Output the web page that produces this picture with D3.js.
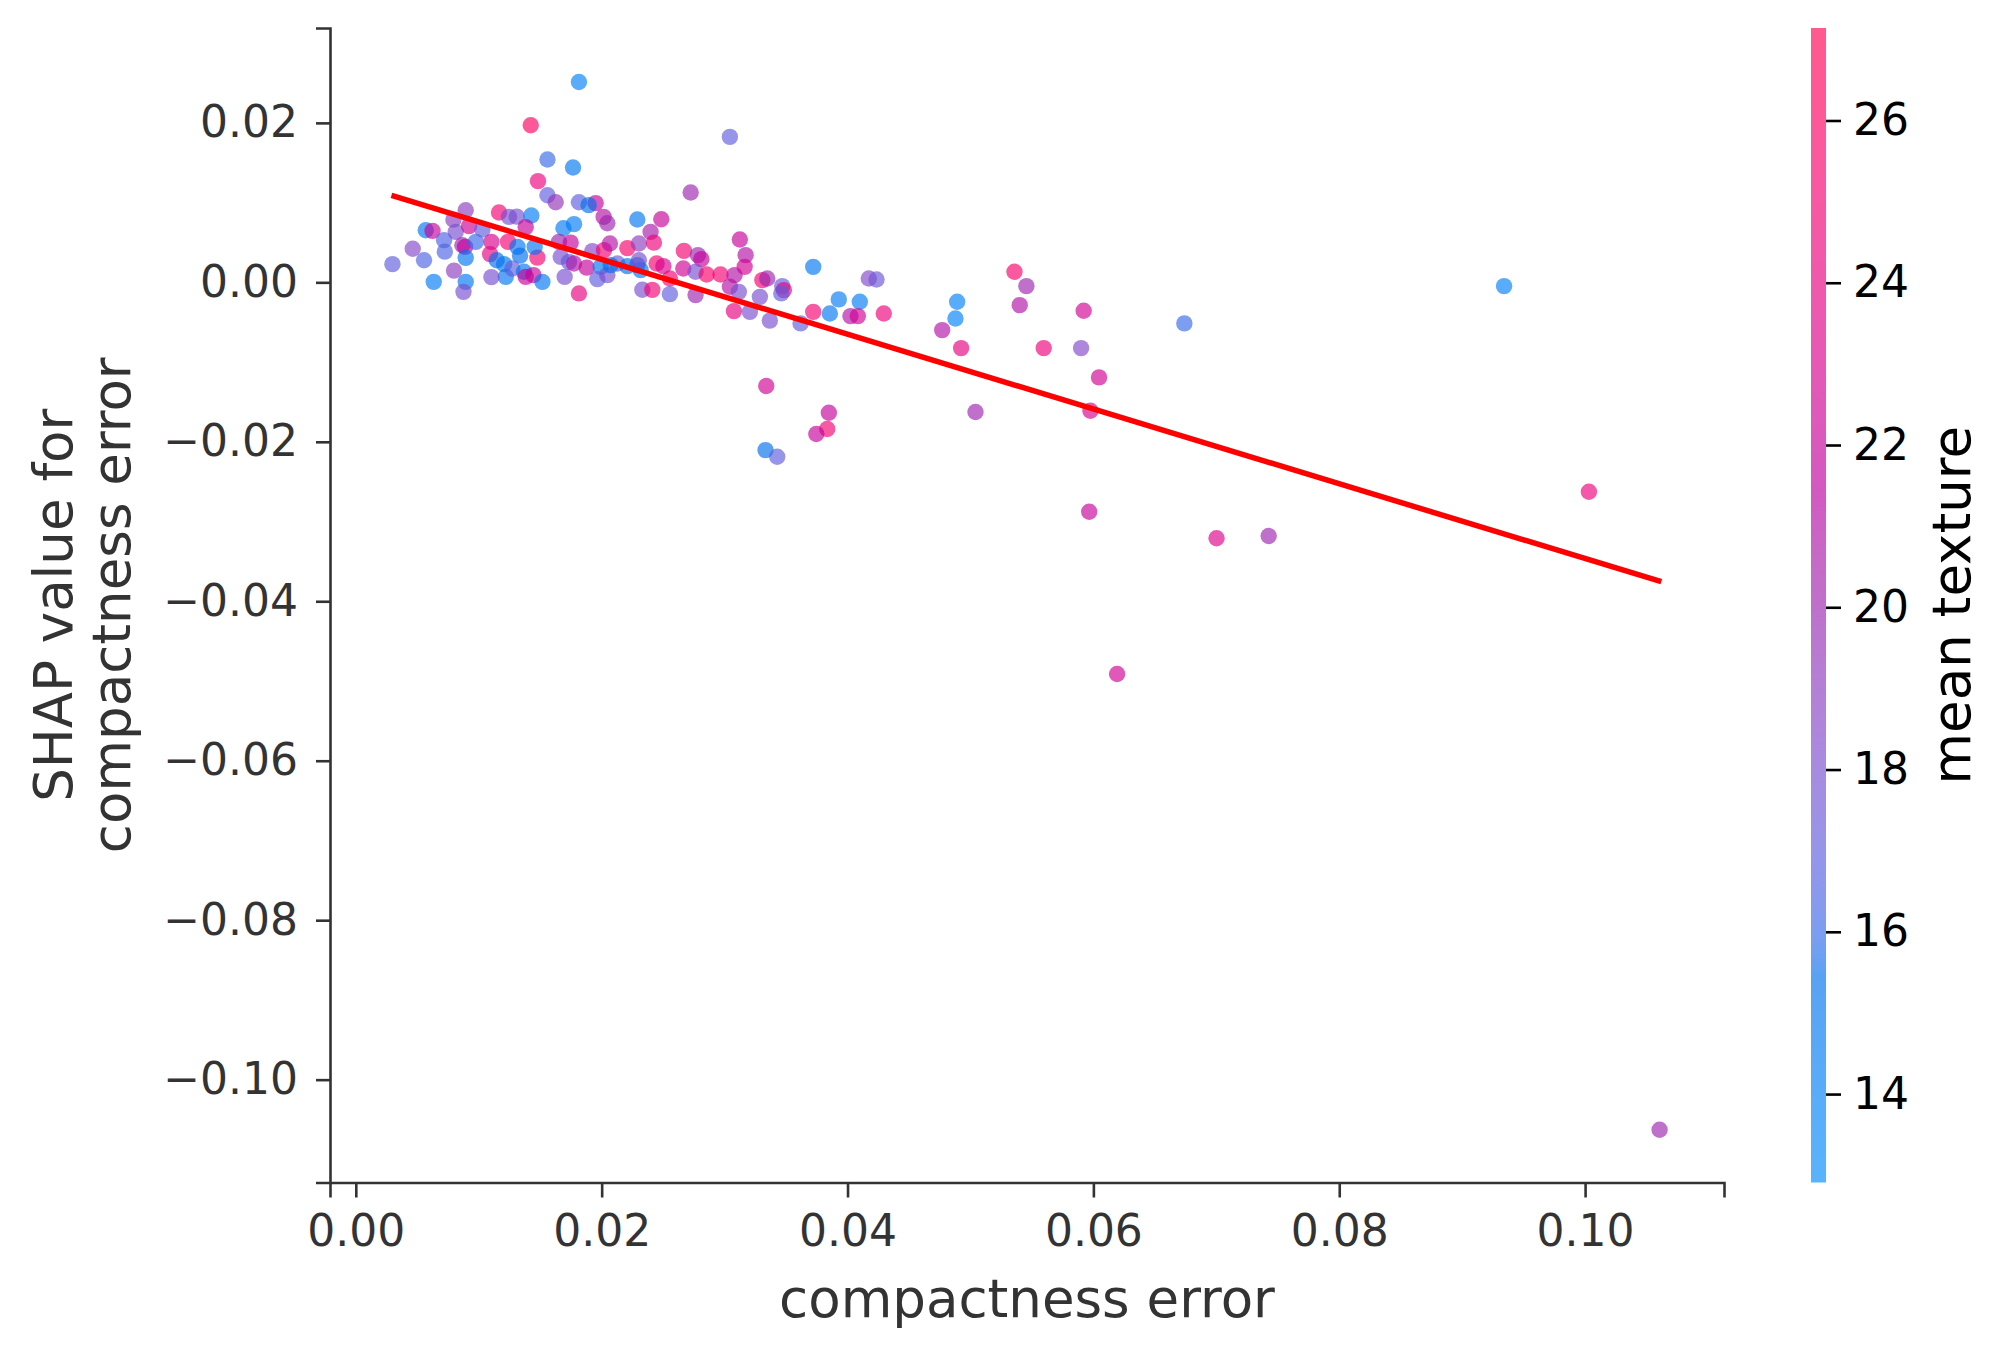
<!DOCTYPE html>
<html>
<head>
<meta charset="utf-8">
<script src="https://cdn.jsdelivr.net/npm/d3@7"></script>
<style>
  body { margin: 0; background: #ffffff; }
  svg { display: block; font-family: "DejaVu Sans", sans-serif; }
</style>
</head>
<body>
<svg id="chart" width="2011" height="1357"></svg>
<script>
/** compactness error of each sample (x) */
var compactness = [
  0.01815,0.01423,0.03043,0.01559,0.01767,0.01482,0.02724,0.01559,0.01626,0.01815,
  0.01951,0.01894,0.02016,0.02046,0.00298,0.00463,0.00555,0.00569,0.00624,0.00634,
  0.00718,0.00724,0.00799,0.00794,0.00894,0.00813,0.00921,0.00867,0.00889,0.00894,
  0.00894,0.00876,0.00976,0.01030,0.01103,0.01165,0.01246,0.01309,0.01428,0.01382,
  0.01092,0.01146,0.01206,0.01220,0.01103,0.01238,0.01315,0.01336,0.01274,0.01368,
  0.01382,0.01445,0.01477,0.01455,0.01518,0.01689,0.01775,0.01653,0.01748,0.01667,
  0.01734,0.01775,0.01699,0.01815,0.01924,0.01878,0.02019,0.01992,0.01965,0.02046,
  0.02067,0.02209,0.02290,0.02303,0.02290,0.02331,0.02128,0.02209,0.02073,0.02317,
  0.02303,0.02485,0.02398,0.02425,0.02412,0.02447,0.02502,0.02555,0.02555,0.02669,
  0.02783,0.02811,0.02664,0.02764,0.02854,0.02764,0.02967,0.03081,0.03043,0.03116,
  0.03124,0.03171,0.03163,0.03076,0.03206,0.03287,0.03368,0.03307,0.03347,0.03469,
  0.03482,0.03461,0.03618,0.03721,0.03721,0.03856,0.03929,0.04100,0.04024,0.04084,
  0.04173,0.04236,0.04295,0.03339,0.03333,0.03428,0.03848,0.03835,0.03746,0.04770,
  0.04892,0.04878,0.04924,0.05358,0.05455,0.05401,0.05596,0.05921,0.05900,0.06046,
  0.05976,0.05041,0.06740,0.05966,0.07002,0.07426,0.06193,0.09341,0.10031,0.10606
];

/** SHAP value for compactness error (y) */
var shapValues = [
  0.02513,0.01971,0.01824,0.01541,0.01440,0.01269,0.01127,0.01093,0.01005,0.01005,
  0.00993,0.00968,0.00821,0.00742,0.00228,0.00422,0.00278,0.00654,0.00646,0.00006,
  0.00529,0.00385,0.00147,0.00786,0.00905,0.00633,0.00705,0.00466,0.00445,0.00307,
  0.00006,-0.00119,0.00508,0.00663,0.00508,0.00876,0.00821,0.00824,0.00839,0.00692,
  0.00354,0.00278,0.00228,0.00069,0.00065,0.00508,0.00445,0.00335,0.00174,0.00132,
  0.00069,0.00090,0.00310,0.00445,0.00006,0.00679,0.00730,0.00508,0.00498,0.00320,
  0.00257,0.00237,0.00069,-0.00139,0.00391,0.00184,0.00404,0.00194,0.00040,0.00090,
  0.00488,0.00429,0.00789,0.00488,0.00216,-0.00092,0.00237,0.00203,0.00216,0.00153,
  0.00278,0.00792,0.00633,0.00498,-0.00094,0.00237,0.00203,0.00049,-0.00148,0.00395,
  0.00341,0.00291,0.00174,0.00132,0.00099,-0.00160,0.00099,0.00090,-0.00056,-0.00119,
  0.00538,0.00341,0.00194,-0.00361,-0.00370,-0.00182,-0.00480,0.00028,0.00049,-0.00048,
  -0.00098,-0.00139,-0.00515,0.00194,-0.00370,-0.00390,-0.00214,-0.00244,-0.00424,-0.00424,
  0.00049,0.00036,-0.00390,-0.01301,-0.02104,-0.02188,-0.01636,-0.01840,-0.01903,-0.00599,
  -0.00244,-0.00453,-0.00825,0.00132,-0.00048,-0.00286,-0.00825,-0.00357,-0.00825,-0.01192,
  -0.01611,-0.01627,-0.00515,-0.02877,-0.03210,-0.03182,-0.04912,-0.00048,-0.02626,-0.10628
];

/** mean texture of each sample (colour) */
var meanTexture = [
  14,26,17,16,15,24.5,20,17,19.5,17,
  22,15.5,21,20,17,18.5,16.5,15,22,14.5,
  16.5,16.5,19,19,19,18,22.5,20,22,15,
  15,18,16,17,23,25,18,18,14.5,22,
  24,15.5,15,15,18,25,15,15.5,17,15,
  22,22,25,15,15,14.5,14.5,20,22,18,
  17,21,18,24,18.5,22,25,15,17,18,
  21,25.5,15,19,15.5,18,17,15.5,15.5,15,
  18,22,20.5,24.5,25,25,23,25,17,25,
  20,22,22.5,18,25.5,20,25,21,21,18,
  22,21,22.5,24,18,18,18,25,20,17,
  24,17,17,15,25,15,14.5,14.5,21,22.5,
  18.5,17.5,24.5,22.5,15.5,17,22,25,22,21,
  14,14,24,25.5,20,21,24.5,22.5,18.5,22.5,
  23,20,16,22,23.5,20,22.5,14,24.5,20
];

/** trend line end points */
var lineX = [0.0029, 0.1062],
    lineY = [0.0109, -0.03755];

/** axis limits and ticks */
var xDomain = [-0.0021, 0.1113],
    yDomain = [-0.1129, 0.0319],
    colorDomain = [12.91, 27.14];
var xTicks = [0.00, 0.02, 0.04, 0.06, 0.08, 0.10],
    yTicks = [-0.10, -0.08, -0.06, -0.04, -0.02, 0.00, 0.02],
    colorTicks = [14, 16, 18, 20, 22, 24, 26];

var xLabel = 'compactness error',
    yLabel = ['SHAP value for', 'compactness error'],
    colorLabel = 'mean texture';

/** layout */
var plot = {left: 330, right: 1724, top: 28, bottom: 1182.5},
    bar = {x: 1811, width: 15},
    axisColor = '#333333',
    pointAlpha = 0.65;

var svg = d3.select('#chart');
svg.append('rect').attr('width', 2011).attr('height', 1357).attr('fill', '#ffffff');

var x = d3.scaleLinear().domain(xDomain).range([plot.left, plot.right]);
var y = d3.scaleLinear().domain(yDomain).range([plot.bottom, plot.top]);
var cScale = d3.scaleLinear().domain(colorDomain).range([plot.bottom, plot.top]);

/**
 * shap red_blue colormap: L goes 54 -> 40 -> 54, C 70 -> 90, hue linear (radians),
 * converted Lab(D65) -> sRGB and clipped, like skimage does.
 */
function lchToRgb(l, c, h) {
    var a = c * Math.cos(h), b = c * Math.sin(h);
    var fy = (l + 16) / 116, fx = a / 500 + fy, fz = fy - b / 200;
    var f = function(t) { return t > 0.2068966 ? t * t * t : (t - 16 / 116) / 7.787; };
    var X = f(fx) * 0.95047, Y = f(fy), Z = f(fz) * 1.08883;
    var rgb = [
        3.24048134 * X - 1.53715152 * Y - 0.49853633 * Z,
        -0.96925495 * X + 1.87599 * Y + 0.04155593 * Z,
        0.05564664 * X - 0.20404134 * Y + 1.05731107 * Z
    ].map(function(v) {
        v = v > 0.0031308 ? 1.055 * Math.pow(v, 1 / 2.4) - 0.055 : v * 12.92;
        return Math.round(Math.max(0, Math.min(1, v)) * 255);
    });
    return d3.rgb(rgb[0], rgb[1], rgb[2]).formatHex();
}
function redBlue(t) {
    t = Math.max(0, Math.min(1, t));
    var h = 4.6588 + t * (0.35470565 + 2 * Math.PI - 4.6588);
    var c = 70 + t * 20;
    var l = t < 0.5 ? 54 - 14 * t / 0.5 : 40 + 14 * (t - 0.5) / 0.5;
    return lchToRgb(l, c, h);
}
function colorOf(v) {
    return redBlue((v - colorDomain[0]) / (colorDomain[1] - colorDomain[0]));
}

var fmt = function(d) {
    var s = Math.abs(d).toFixed(2);
    return (d < -1e-9 ? '\u2212' : '') + s;
};

// Points
var points = compactness.map(function(d, i) {
    return {x: d, y: shapValues[i], c: meanTexture[i]};
});
svg.append('g').selectAll('circle')
    .data(points)
    .enter()
    .append('circle')
    .attr('cx', function(d) { return x(d.x); })
    .attr('cy', function(d) { return y(d.y); })
    .attr('r', 8.2)
    .attr('fill', function(d) { return colorOf(d.c); })
    .attr('fill-opacity', pointAlpha);

// Trend line
svg.append('path')
    .datum(lineX.map(function(d, i) { return [d, lineY[i]]; }))
    .attr('d', d3.line().x(function(d) { return x(d[0]); }).y(function(d) { return y(d[1]); }))
    .attr('fill', 'none')
    .attr('stroke', '#ff0000')
    .attr('stroke-width', 5.5);

// Axes
function styleAxis(g, color, size) {
    g.selectAll('path.domain').attr('stroke', color).attr('stroke-width', 2.6);
    g.selectAll('.tick line').attr('stroke', color).attr('stroke-width', 2.6);
    g.selectAll('.tick text').attr('fill', color).attr('font-size', size)
        .attr('font-family', '"DejaVu Sans", sans-serif');
}

var xAxis = svg.append('g')
    .attr('transform', 'translate(0,' + plot.bottom + ')')
    .call(d3.axisBottom(x).tickValues(xTicks).tickFormat(fmt).tickSizeOuter(0).tickSize(15).tickPadding(17));
styleAxis(xAxis, axisColor, 44);

var yAxis = svg.append('g')
    .attr('transform', 'translate(' + plot.left + ',0)')
    .call(d3.axisLeft(y).tickValues(yTicks).tickFormat(fmt).tickSizeOuter(0).tickSize(14).tickPadding(18));
styleAxis(yAxis, axisColor, 44);

// Axis labels
svg.append('text')
    .attr('x', (plot.left + plot.right) / 2)
    .attr('y', 1317)
    .attr('text-anchor', 'middle')
    .attr('font-size', 53)
    .attr('fill', axisColor)
    .text(xLabel);

var yMid = (plot.top + plot.bottom) / 2;
yLabel.forEach(function(line, i) {
    var bx = i === 0 ? 72 : 130;
    svg.append('text')
        .attr('transform', 'translate(' + bx + ',' + yMid + ') rotate(-90)')
        .attr('text-anchor', 'middle')
        .attr('font-size', 53)
        .attr('fill', axisColor)
        .text(line);
});

// Colour bar
var grad = svg.append('defs').append('linearGradient')
    .attr('id', 'cbar')
    .attr('x1', 0).attr('y1', 1).attr('x2', 0).attr('y2', 0);
d3.range(0, 101).forEach(function(i) {
    grad.append('stop')
        .attr('offset', i + '%')
        .attr('stop-color', redBlue(i / 100));
});
svg.append('rect')
    .attr('x', bar.x)
    .attr('y', plot.top)
    .attr('width', bar.width)
    .attr('height', plot.bottom - plot.top)
    .attr('fill', 'url(#cbar)')
    .attr('fill-opacity', pointAlpha);

var cAxis = svg.append('g')
    .attr('transform', 'translate(' + (bar.x + bar.width) + ',0)')
    .call(d3.axisRight(cScale).tickValues(colorTicks).tickSizeOuter(0).tickSize(15).tickPadding(12));
cAxis.select('path.domain').remove();
styleAxis(cAxis, '#000000', 44);

svg.append('text')
    .attr('transform', 'translate(1970,' + yMid + ') rotate(-90)')
    .attr('text-anchor', 'middle')
    .attr('font-size', 53)
    .attr('fill', '#000000')
    .text(colorLabel);
</script>
</body>
</html>
